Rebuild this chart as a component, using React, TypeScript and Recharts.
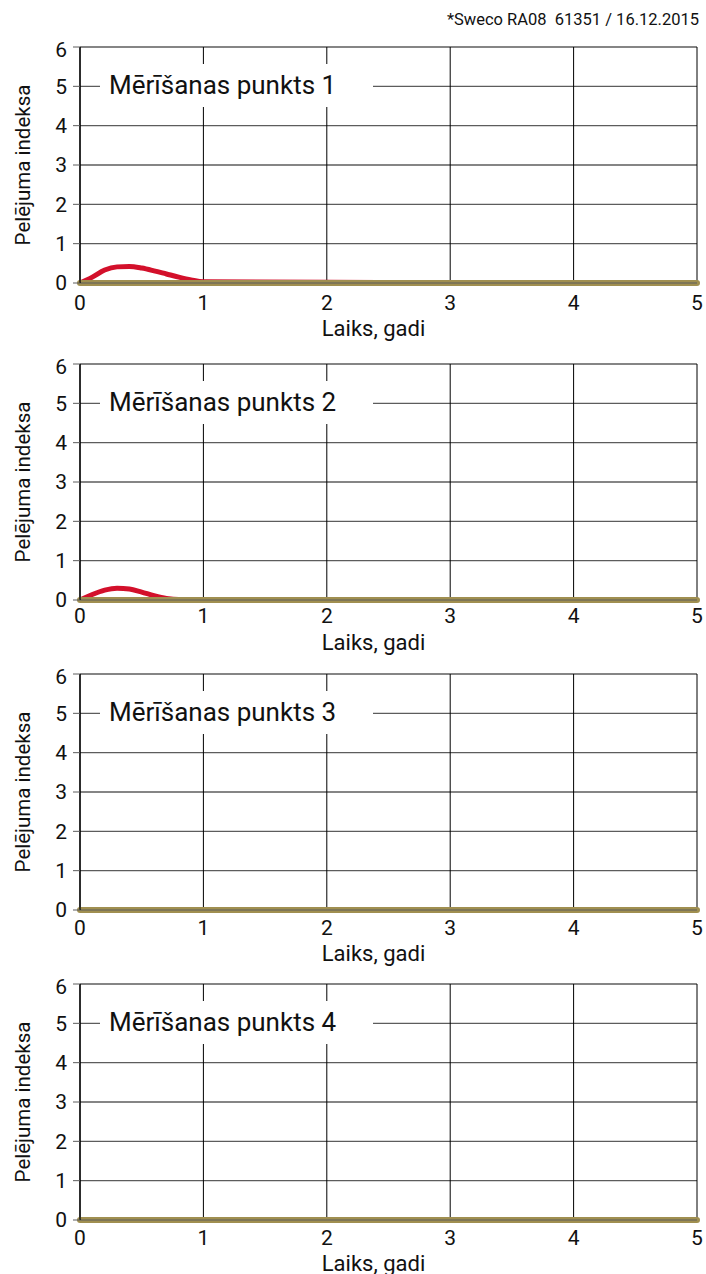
import React from 'react';
import { LineChart, Line, XAxis, YAxis, CartesianGrid } from 'recharts';

// time in years
const years = [0, 0.1, 0.2, 0.3, 0.4, 0.5, 0.6, 0.7, 0.8, 0.9, 1, 2, 3, 4, 5];

// mould index, red curve per measuring point
const red1 = [0, 0.15, 0.33, 0.41, 0.42, 0.38, 0.31, 0.23, 0.15, 0.08, 0.03, 0.02, 0.01, 0.01, 0.01];
const red2 = [0, 0.14, 0.25, 0.3, 0.28, 0.2, 0.11, 0.04, 0.01, 0.01, 0.01, 0.01, 0.01, 0.01, 0.01];
const red3 = [0, 0, 0, 0, 0, 0, 0, 0, 0, 0, 0, 0, 0, 0, 0];
const red4 = [0, 0, 0, 0, 0, 0, 0, 0, 0, 0, 0, 0, 0, 0, 0];

// mould index, olive curve per measuring point
const olive1 = [0, 0, 0, 0, 0, 0, 0, 0, 0, 0, 0, 0, 0, 0, 0];
const olive2 = [0, 0, 0, 0, 0, 0, 0, 0, 0, 0, 0, 0, 0, 0, 0];
const olive3 = [0, 0, 0, 0, 0, 0, 0, 0, 0, 0, 0, 0, 0, 0, 0];
const olive4 = [0, 0, 0, 0, 0, 0, 0, 0, 0, 0, 0, 0, 0, 0, 0];

const xTicks = [0, 1, 2, 3, 4, 5];
const yTicks = [0, 1, 2, 3, 4, 5, 6];

const titles = ['Mērīšanas punkts 1', 'Mērīšanas punkts 2', 'Mērīšanas punkts 3', 'Mērīšanas punkts 4'];
const redSeries = [red1, red2, red3, red4];
const oliveSeries = [olive1, olive2, olive3, olive4];

// layout
const PANEL_TOPS = [47, 364, 674, 984];
const TICK_MARGINS = [6, 2, 4, 4];
const XLABEL_DY = [13, 10, 11, 11];
const MARGIN_TOP = 10;
const FONT = 'Roboto, "Noto Sans", sans-serif';

function Panel({ idx }: { idx: number }) {
  const data = years.map((t, i) => ({
    t,
    red: redSeries[idx][i],
    olive: oliveSeries[idx][i],
  }));
  const top = PANEL_TOPS[idx];

  return (
    <div style={{ position: 'absolute', left: 0, top: top - MARGIN_TOP, width: 706, height: 310 }}>
      <LineChart width={706} height={310} data={data} margin={{ top: MARGIN_TOP, right: 9, bottom: 0, left: 0 }}>
        <CartesianGrid horizontal={true} vertical={false} stroke="#5c5c5c" strokeWidth={1.3} />
        <CartesianGrid horizontal={false} vertical={true} stroke="#000" strokeWidth={1} />
        <XAxis
          dataKey="t"
          type="number"
          domain={[0, 5]}
          ticks={xTicks}
          tickLine={false}
          axisLine={{ stroke: '#5c5c5c' }}
          tickMargin={TICK_MARGINS[idx]}
          height={64}
          tick={{ fill: '#111', fontSize: 21, fontFamily: FONT }}
          label={{
            value: 'Laiks, gadi',
            position: 'center',
            dx: -15,
            dy: XLABEL_DY[idx],
            fill: '#111',
            fontSize: 22,
            fontFamily: FONT,
          }}
        />
        <YAxis
          type="number"
          domain={[0, 6]}
          ticks={yTicks}
          width={80}
          tickSize={7}
          tickMargin={6}
          axisLine={{ stroke: '#000', strokeWidth: 1.3 }}
          tickLine={{ stroke: '#5c5c5c' }}
          tick={{ fill: '#111', fontSize: 21, fontFamily: FONT }}
          label={{
            value: 'Pelējuma indeksa',
            position: 'center',
            angle: -90,
            dx: -17,
            fill: '#111',
            fontSize: 20.5,
            fontFamily: FONT,
          }}
        />
        <Line
          type="monotone"
          dataKey="red"
          stroke="#d3102b"
          strokeWidth={5}
          dot={false}
          isAnimationActive={false}
        />
        <Line
          type="monotone"
          dataKey="olive"
          stroke="#a08f50"
          strokeWidth={6}
          strokeLinecap="round"
          dot={false}
          isAnimationActive={false}
        />
      </LineChart>
      <div
        style={{
          position: 'absolute',
          left: 100,
          top: MARGIN_TOP + 17,
          width: 273,
          height: 43,
          background: '#fff',
          boxSizing: 'border-box',
          paddingLeft: 9,
          lineHeight: '43px',
          fontSize: 26,
          fontFamily: FONT,
          color: '#111',
          whiteSpace: 'nowrap',
        }}
      >
        {titles[idx]}
      </div>
    </div>
  );
}

export default function App() {
  return (
    <div
      style={{
        position: 'absolute',
        left: 0,
        top: 0,
        width: 706,
        height: 1274,
        background: '#fff',
        overflow: 'hidden',
      }}
    >
      <div
        style={{
          position: 'absolute',
          right: 7,
          top: 10,
          fontSize: 16.5,
          fontFamily: FONT,
          color: '#111',
          whiteSpace: 'pre',
        }}
      >
        {'*Sweco RA08  61351 / 16.12.2015'}
      </div>
      {[0, 1, 2, 3].map((i) => (
        <Panel key={i} idx={i} />
      ))}
    </div>
  );
}
